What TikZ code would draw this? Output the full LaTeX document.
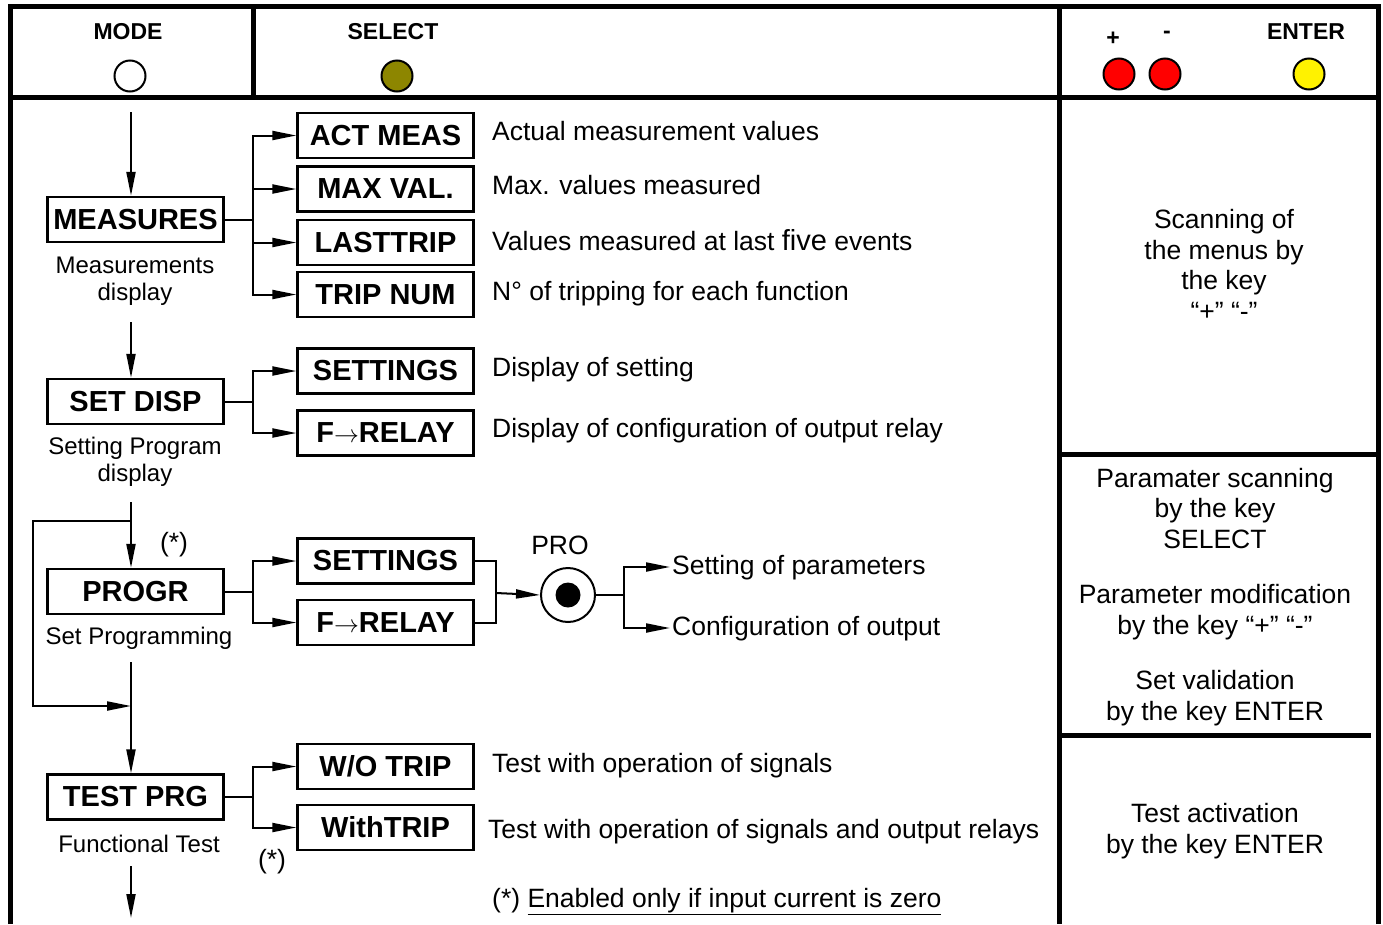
\documentclass[tikz,border=0pt]{standalone}
\usepackage{fontspec}
\setmainfont{Liberation Sans}
\usetikzlibrary{arrows.meta}

\begin{document}
\begin{tikzpicture}[x=1pt,y=-1pt,
  menu/.style={draw,line width=2.3pt,minimum width=176pt,minimum height=45pt,inner sep=0pt,font=\fontsize{29}{30}\selectfont\bfseries},
  head/.style={font=\fontsize{23}{25}\selectfont\bfseries},
  lamp/.style={draw,circle,line width=2pt,minimum size=31pt,inner sep=0pt},
  info/.style={align=center,font=\fontsize{26.5}{30.5}\selectfont},
  sub/.style={align=center,font=\fontsize{24}{27}\selectfont},
  desc/.style={anchor=west,inner sep=2pt,text height=19pt,text depth=5pt,font=\fontsize{26.5}{30}\selectfont},
  wire/.style={line width=2pt},
  arr/.style={line width=2pt,-{Triangle[length=24pt,width=9pt]}},
  frameline/.style={line width=5pt}]
\useasboundingbox (0,0) rectangle (1383,924);

\draw[frameline] (10,924) -- (10,6.5) -- (1378,6.5) -- (1378,924);
\draw[frameline] (10,97) -- (1378,97);
\draw[frameline] (253.5,6.5) -- (253.5,97);
\draw[frameline] (1059.5,6.5) -- (1059.5,924);
\draw[frameline] (1059.5,454.5) -- (1378,454.5);
\draw[frameline] (1059.5,735.5) -- (1371,735.5);

\node[head] (mode) at (128,32) {MODE};
\node[lamp,fill=white] (modelamp) at (130,76) {};
\node[head] (select) at (393,32) {SELECT};
\node[lamp,fill=olive] (selectlamp) at (397,76) {};
\node[head] (plus) at (1113,39) {+};
\node[head] (minus) at (1167,35) {-};
\node[head] (enter) at (1306,32) {ENTER};
\node[lamp,fill=red] (pluslamp) at (1119,74) {};
\node[lamp,fill=red] (minuslamp) at (1165,74) {};
\node[lamp,fill=yellow] (enterlamp) at (1309,74) {};

\node[info] (scaninfo) at (1224,265) {Scanning of\\the menus by\\the key\\“+” “-”};
\node[info] (paraminfo) at (1215,597) {Paramater scanning\\by the key\\SELECT\\[25pt]Parameter modification\\by the key “+” “-”\\[25pt]Set validation\\by the key ENTER};
\node[info] (testinfo) at (1215,831) {Test activation\\by the key ENTER};

\node[menu] (meas) at (135.5,219.5) {MEASURES};
\node[menu] (setdisp) at (135.5,401.5) {SET DISP};
\node[menu] (progr) at (135.5,591.5) {PROGR};
\node[menu] (testprg) at (135.5,797) {TEST PRG};
\node[sub] (measlbl) at (135,281) {Measurements\\display};
\node[sub] (setlbl) at (135,462) {Setting Program\\display};
\node[sub] (proglbl) at (139,638) {Set Programming};
\node[sub] (testlbl) at (139,844) {Functional Test};
\node[info] (progstar) at (174,545) {(*)};
\node[info] (teststar) at (272,862) {(*)};

\node[menu] (act) at (385.5,135.5) {ACT MEAS};
\node[menu] (maxv) at (385.5,189) {MAX VAL.};
\node[menu] (last) at (385.5,242.5) {LASTTRIP};
\node[menu] (tripn) at (385.5,294.5) {TRIP NUM};
\node[menu] (dset) at (385.5,371) {SETTINGS};
\node[menu] (drel) at (385.5,433) {F{\fontsize{26}{26}\selectfont$\rightarrow$}RELAY};
\node[menu] (pset) at (385.5,561) {SETTINGS};
\node[menu] (prel) at (385.5,622.5) {F{\fontsize{26}{26}\selectfont$\rightarrow$}RELAY};
\node[menu] (wo) at (385.5,766.5) {W/O TRIP};
\node[menu] (with) at (385.5,827.5) {WithTRIP};

\node[desc] (actd) at (490,133) {Actual measurement values};
\node[desc] (maxvd) at (490,187) {Max. values measured};
\node[desc] (lastd) at (490,243) {Values measured at last {\fontsize{29}{30}\selectfont five} events};
\node[desc] (tripnd) at (490,293) {N° of tripping for each function};
\node[desc] (dsetd) at (490,369) {Display of setting};
\node[desc] (dreld) at (490,430) {Display of configuration of output relay};
\node[desc] (wod) at (490,765) {Test with operation of signals};
\node[desc] (withd) at (486,831) {Test with operation of signals and output relays};
\node[desc] (note) at (490,900) {(*) \underline{Enabled only if input current is zero}};

\node[draw,circle,line width=2pt,minimum size=54pt,inner sep=0pt] (pro) at (568,595) {};
\node[circle,fill,minimum size=25pt,inner sep=0pt] (prodot) at (pro) {};
\node[info] (prolbl) at (560,545) {PRO};
\node[desc] (setpar) at (670,567) {Setting of parameters};
\node[desc] (confout) at (670,628) {Configuration of output};

\coordinate (top) at (131,112);
\coordinate (m1) at (131,322);
\coordinate (m2) at (131,502);
\coordinate (m3) at (131,662);
\coordinate (m4) at (131,866);
\coordinate (m5) at (131,918);
\draw[arr] (top) -- (top |- meas.north);
\draw[arr] (m1) -- (m1 |- setdisp.north);
\draw[arr] (m2) -- (m2 |- progr.north);
\draw[arr] (m3) -- (m3 |- testprg.north);
\draw[arr] (m4) -- (m5);

\coordinate (lp1) at (131,521);
\coordinate (lpa) at (33,521);
\coordinate (lpb) at (33,706);
\coordinate (lp2) at (131,706);
\draw[arr] (lp1) -- (lpa) -- (lpb) -- (lp2);

\coordinate (j1) at (253,219.5);
\draw[wire] (meas.east) -- (j1);
\foreach \n in {act,maxv,last,tripn} \draw[arr] (j1) |- (\n.west);
\coordinate (j2) at (253,401.5);
\draw[wire] (setdisp.east) -- (j2);
\foreach \n in {dset,drel} \draw[arr] (j2) |- (\n.west);
\coordinate (j3) at (253,591.5);
\draw[wire] (progr.east) -- (j3);
\foreach \n in {pset,prel} \draw[arr] (j3) |- (\n.west);
\coordinate (j4) at (253,797);
\draw[wire] (testprg.east) -- (j4);
\foreach \n in {wo,with} \draw[arr] (j4) |- (\n.west);

\coordinate (j5) at (496,593);
\draw[wire] (pset.east) -| (j5);
\draw[wire] (prel.east) -| (j5);
\draw[arr] (j5) -- (pro.west);
\coordinate (j6) at (624,595);
\draw[wire] (pro.east) -- (j6);
\draw[arr] (j6) |- (setpar.west);
\draw[arr] (j6) |- (confout.west);
\end{tikzpicture}
\end{document}
